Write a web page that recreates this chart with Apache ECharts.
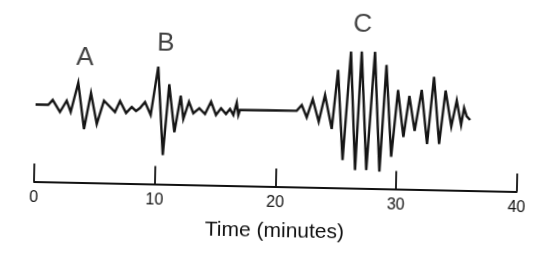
<!DOCTYPE html>
<html>
<head>
<meta charset="utf-8">
<script src="https://cdn.jsdelivr.net/npm/echarts@6/dist/echarts.min.js"></script>
<style>
html,body{margin:0;padding:0;background:#fff;overflow:hidden;}
/* the scanned figure is tilted a little, so the whole chart is turned with it */
#container{width:542px;height:263px;transform:rotate(1.187deg);transform-origin:34px 181.5px;}
</style>
</head>
<body>
<div id="container"></div>
<script>
// seismogram trace: time in minutes, amplitude (arbitrary units)
var traceMinutes=[0,1.05,1.41,2.03,2.57,2.92,3.50,4.05,4.57,5.10,
	5.66,6.59,6.99,7.51,7.97,8.33,8.66,9.06,9.55,10.10,
	10.62,11.04,11.54,12.01,12.26,12.70,13.08,13.57,14.05,14.53,
	14.96,15.37,15.79,16.11,16.40,16.66,16.81,16.94,21.64,22.05,
	22.48,22.95,23.48,23.96,24.57,25.00,25.52,26.04,26.57,26.93,
	27.50,28.03,28.59,29.00,29.54,30.00,30.52,30.95,31.44,31.96,
	32.49,32.96,33.49,33.94,34.47,34.88,35.28,35.50,35.73,36.02];
var traceAmplitude=[0,0,4.9,-7,4.5,-6.7,22.7,-23.5,12.7,-18.2,
	5.3,-5.8,5.3,-6.6,-0.5,-4.4,-1.3,4.8,-8.1,40.4,
	-47.8,23,-24.9,11.8,-11.4,6,-5.5,-0.4,-6,6.5,
	-6.7,0.1,-5.5,-0.4,-6.4,6,-6.3,-1.2,-0.8,5,
	-7.2,11,-11.3,15.5,-18.3,40.8,-49.1,59.4,-58.9,59.6,
	-58.6,59.6,-59.9,46.8,-44.8,22,-24.9,16.3,-18.6,22.5,
	-31.4,35.8,-31.1,22.5,-13.4,12.75,-11.7,5.4,-2.8,-6.5];

// arrival labels
var phaseLabels=['A','B','C'];
var phaseMinutes=[4.01,10.68,26.95];
var phaseHeights=[47.3,63.4,86.6];

var traceData=[];
for(var i=0;i<traceMinutes.length;i++){
	traceData.push([traceMinutes[i],traceAmplitude[i]]);
}
var phaseData=[];
for(var j=0;j<phaseLabels.length;j++){
	phaseData.push({value:[phaseMinutes[j],phaseHeights[j]],name:phaseLabels[j]});
}

var option={
	backgroundColor:'#fff',
	animation:false,
	grid:{left:34,right:25.2,top:9.5,bottom:81.5},
	xAxis:{
		type:'value',
		min:0,
		max:40,
		interval:10,
		name:'Time (minutes)',
		nameLocation:'middle',
		nameGap:34,
		nameTextStyle:{color:'#111',fontSize:21,fontFamily:'Liberation Sans'},
		axisLine:{onZero:false,lineStyle:{color:'#111',width:1.8}},
		axisTick:{inside:true,length:18,lineStyle:{color:'#111',width:1.8}},
		axisLabel:{color:'#111',fontSize:16,margin:8,fontFamily:'Liberation Sans'},
		splitLine:{show:false}
	},
	yAxis:{
		type:'value',
		min:-77,
		max:95,
		show:false
	},
	series:[
		{
			name:'trace',
			type:'line',
			data:traceData,
			symbol:'none',
			smooth:false,
			lineStyle:{color:'#151515',width:2.4,join:'miter',miterLimit:6}
		},
		{
			name:'phases',
			type:'scatter',
			data:phaseData,
			symbolSize:0,
			clip:false,
			label:{
				show:true,
				position:'inside',
				formatter:'{b}',
				color:'#111',
				fontSize:26,
				fontFamily:'Liberation Sans'
			}
		}
	]
};

var mychart=echarts.init(document.getElementById('container'));
mychart.setOption(option);
</script>
</body>
</html>
